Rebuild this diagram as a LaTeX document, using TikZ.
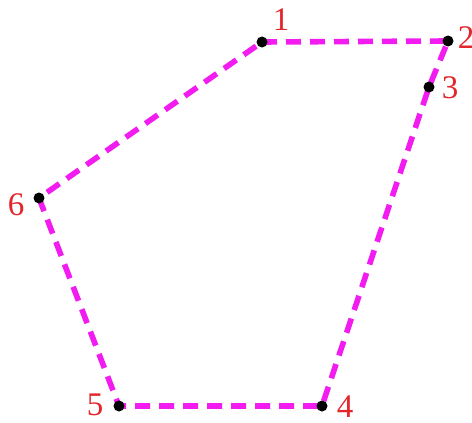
\documentclass[tikz,border=0pt]{standalone}
\usepackage{fontspec}
\setmainfont{Liberation Serif}
\usepackage{tikz}
\usetikzlibrary{positioning}
\definecolor{edgemag}{HTML}{F21CF0}
\definecolor{numred}{HTML}{E3262B}
\tikzset{
  vertex/.style={circle, fill=black, inner sep=0pt, minimum size=5.5pt},
  num/.style={font=\fontsize{16.5}{16.5}\selectfont, text=numred, inner sep=0pt},
  edge/.style={draw=edgemag, line width=2.8pt, dash pattern=on 7.5pt off 4.5pt},
}
\begin{document}
\begin{tikzpicture}[x=0.5pt, y=-0.5pt]
    \useasboundingbox (0,0) rectangle (472,423);
    % corners of the polygon
    \coordinate (c1) at (262,42);
    \coordinate (c2) at (448,41);
    \coordinate (c3) at (429,87);
    \coordinate (c4) at (322,406);
    \coordinate (c5) at (119,406);
    \coordinate (c6) at (39,198);
    \draw[edge] (c1) -- (c2) -- (c3) -- (c4) -- (c5) -- (c6) -- cycle;
    \foreach \k in {1,...,6} {
      \node[vertex] (v\k) at (c\k) {};
    }
    \node[num] (n1) at (281,20) {1};
    \node[num] (n2) at (466,38) {2};
    \node[num] (n3) at (450,88) {3};
    \node[num] (n4) at (345,407) {4};
    \node[num] (n5) at (95,405) {5};
    \node[num] (n6) at (16,205) {6};
  \end{tikzpicture}
\end{document}
